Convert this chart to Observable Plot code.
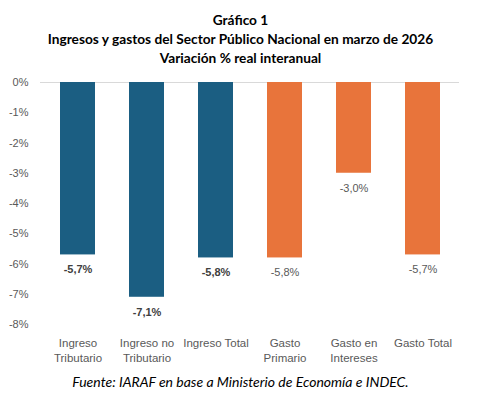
<!DOCTYPE html>
<html><head><meta charset="utf-8">
<script src="https://cdn.jsdelivr.net/npm/d3@7"></script>
<script src="https://cdn.jsdelivr.net/npm/@observablehq/plot@0.6"></script>
<style>
body{margin:0;background:#fff;width:481px;}
#title{font-family:Lato,"Open Sans",sans-serif;font-weight:bold;font-size:13.7px;line-height:19px;text-align:center;color:#000;padding-top:10px;height:60px;}
#caption{font-family:Lato,"Open Sans",sans-serif;font-style:italic;font-size:14px;text-align:center;color:#000;margin-top:3px;}
svg{display:block;}
</style></head>
<body>
<div id="title">Gráfico 1<br>Ingresos y gastos del Sector Público Nacional en marzo de 2026<br>Variación % real interanual</div>
<div id="chart"></div>
<div id="caption">Fuente: IARAF en base a Ministerio de Economía e INDEC.</div>
<script>
const categories = ["Ingreso\nTributario","Ingreso no\nTributario","Ingreso Total","Gasto\nPrimario","Gasto en\nIntereses","Gasto Total"];
const values = [-5.7,-7.1,-5.8,-5.8,-3.0,-5.7];
const groups = ["Ingreso","Ingreso","Ingreso","Gasto","Gasto","Gasto"];
const yTicks = [0,-1,-2,-3,-4,-5,-6,-7,-8];
const data = categories.map((c,i)=>({cat:c,value:values[i],group:groups[i]}));
const fmt = v => (v.toFixed(1).replace(".", ",")) + "%";
const chart = Plot.plot({
  width:481, height:300,
  marginTop:12, marginBottom:46, marginLeft:40, marginRight:22,
  style:{fontFamily:"'Liberation Sans',Arial,sans-serif",fontSize:"11px",color:"#595959"},
  x:{domain:categories, paddingInner:0.5, paddingOuter:0.25, label:null, axis:null},
  y:{domain:[-8,0], ticks:yTicks, label:null, axis:null},
  color:{domain:["Ingreso","Gasto"], range:["#1b5e82","#e8743b"]},
  marks:[
    Plot.ruleY([0],{stroke:"#d9d9d9"}),
    Plot.barY(data,{x:"cat",y:"value",fill:"group"}),
    Plot.axisY({ticks:yTicks, tickSize:0, tickPadding:12, tickFormat:d=>d+"%", fill:"#595959", fontSize:11}),
    Plot.axisX({tickSize:0, tickPadding:12, fill:"#595959", fontSize:11.5, lineHeight:1.3}),
    Plot.text(data.filter(d=>d.group==="Ingreso"),{x:"cat",y:"value",text:d=>fmt(d.value),dy:15,fill:"#404040",fontWeight:"bold",fontSize:11}),
    Plot.text(data.filter(d=>d.group==="Gasto"),{x:"cat",y:"value",text:d=>fmt(d.value),dy:15,fill:"#595959",fontSize:11})
  ]
});
document.getElementById("chart").appendChild(chart);
</script>
</body></html>
